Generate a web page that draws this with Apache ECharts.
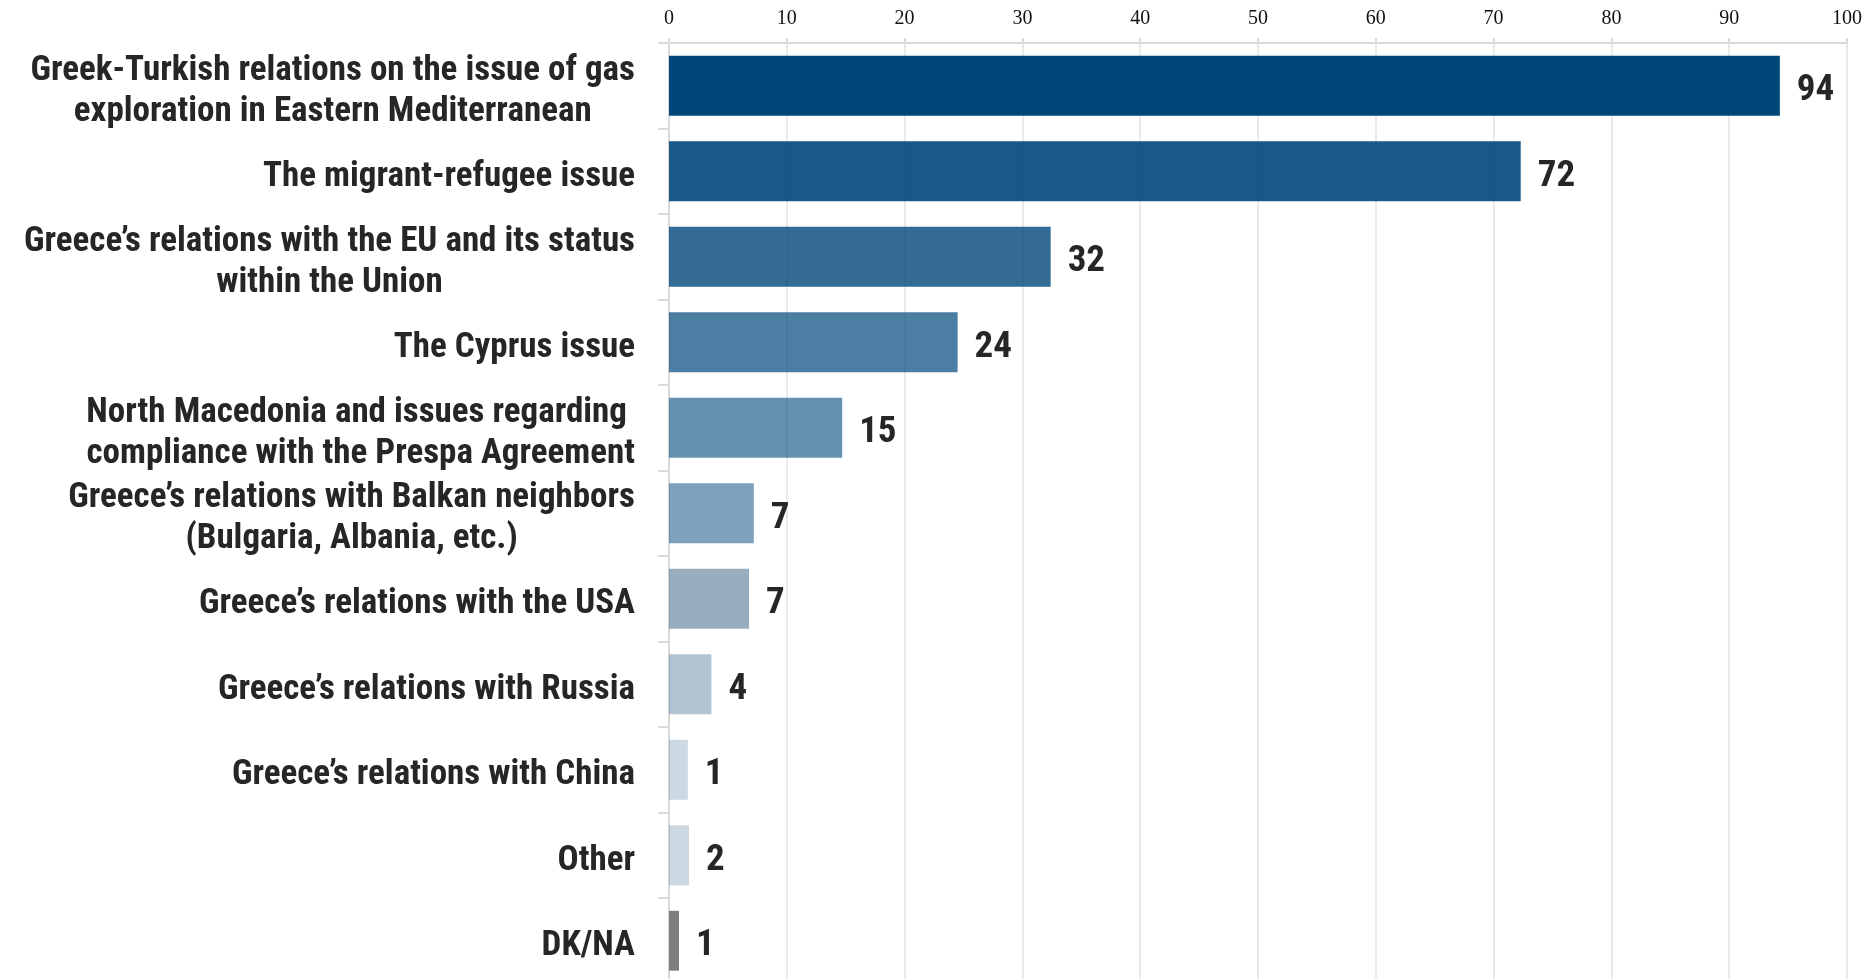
<!DOCTYPE html>
<html>
<head>
<meta charset="utf-8">
<style>
html,body{margin:0;padding:0;background:#fff;}
#chart{width:1875px;height:979px;}
</style>
<script src="https://cdn.jsdelivr.net/npm/echarts@6/dist/echarts.min.js"></script>
</head>
<body>
<div id="chart"></div>
<script>
// ---- data ----
const categories = [
  "Greek-Turkish relations on the issue of gas\nexploration in Eastern Mediterranean",
  "The migrant-refugee issue",
  "Greece’s relations with the EU and its status\nwithin the Union",
  "The Cyprus issue",
  "North Macedonia and issues regarding \ncompliance with the Prespa Agreement",
  "Greece’s relations with Balkan neighbors\n(Bulgaria, Albania, etc.)",
  "Greece’s relations with the USA",
  "Greece’s relations with Russia",
  "Greece’s relations with China",
  "Other",
  "DK/NA"
];
const barValues = [94.3, 72.3, 32.4, 24.5, 14.7, 7.2, 6.8, 3.6, 1.6, 1.7, 0.85];
const printedValues = [94, 72, 32, 24, 15, 7, 7, 4, 1, 2, 1];
const tickValues = [0, 10, 20, 30, 40, 50, 60, 70, 80, 90, 100];

// ---- styles ----
const barColors = [
  'rgba(0,70,122,1)',
  'rgba(0,70,122,0.9)',
  'rgba(0,70,122,0.8)',
  'rgba(0,70,122,0.7)',
  'rgba(0,70,122,0.6)',
  'rgba(0,70,122,0.5)',
  'rgba(10,60,100,0.42)',
  'rgba(0,60,110,0.3)',
  'rgba(0,60,110,0.2)',
  'rgba(0,60,110,0.2)',
  'rgba(127,127,127,1)'
];

const chart = echarts.init(document.getElementById('chart'), null, {renderer: 'canvas'});
const labelFont = "'Roboto Condensed', 'Liberation Sans Narrow', sans-serif";

chart.setOption({
  animation: false,
  backgroundColor: '#ffffff',
  grid: {left: 669, right: 28, top: 43, height: 940.5, containLabel: false, outerBoundsMode: 'none'},
  xAxis: {
    type: 'value',
    position: 'top',
    min: tickValues[0],
    max: tickValues[tickValues.length - 1],
    interval: 10,
    axisLine: {show: true, lineStyle: {color: '#d9d9d9', width: 2}},
    axisTick: {show: true, length: 5, lineStyle: {color: '#d9d9d9', width: 2}},
    splitLine: {show: true, lineStyle: {color: '#e3e3e3', width: 1.5}},
    axisLabel: {
      margin: 14,
      color: '#111',
      fontFamily: "'Liberation Serif', 'DejaVu Serif', serif",
      fontSize: 20
    }
  },
  yAxis: {
    type: 'category',
    inverse: true,
    data: categories,
    axisLine: {show: true, lineStyle: {color: '#d9d9d9', width: 2}},
    axisTick: {show: true, length: 11, lineStyle: {color: '#d9d9d9', width: 2}},
    splitLine: {show: false},
    axisLabel: {
      margin: 34,
      padding: [11, 0, 0, 0],
      formatter: function (v) {
        return v.split('\n').map(function (s) { return '{c|' + s + '}'; }).join('\n');
      },
      rich: {
        c: {
          align: 'center',
          fontFamily: labelFont,
          fontWeight: 'bold',
          fontSize: 35,
          lineHeight: 41,
          color: '#262626'
        }
      }
    }
  },
  series: [{
    type: 'bar',
    barCategoryGap: '30%',
    data: barValues.map(function (v, i) {
      return {value: v, itemStyle: {color: barColors[i]}};
    }),
    label: {
      show: true,
      position: 'right',
      distance: 17,
      offset: [0, 5],
      formatter: function (p) { return String(printedValues[p.dataIndex]); },
      fontFamily: labelFont,
      fontWeight: 'bold',
      fontSize: 37,
      color: '#262626'
    }
  }]
});
</script>
</body>
</html>
